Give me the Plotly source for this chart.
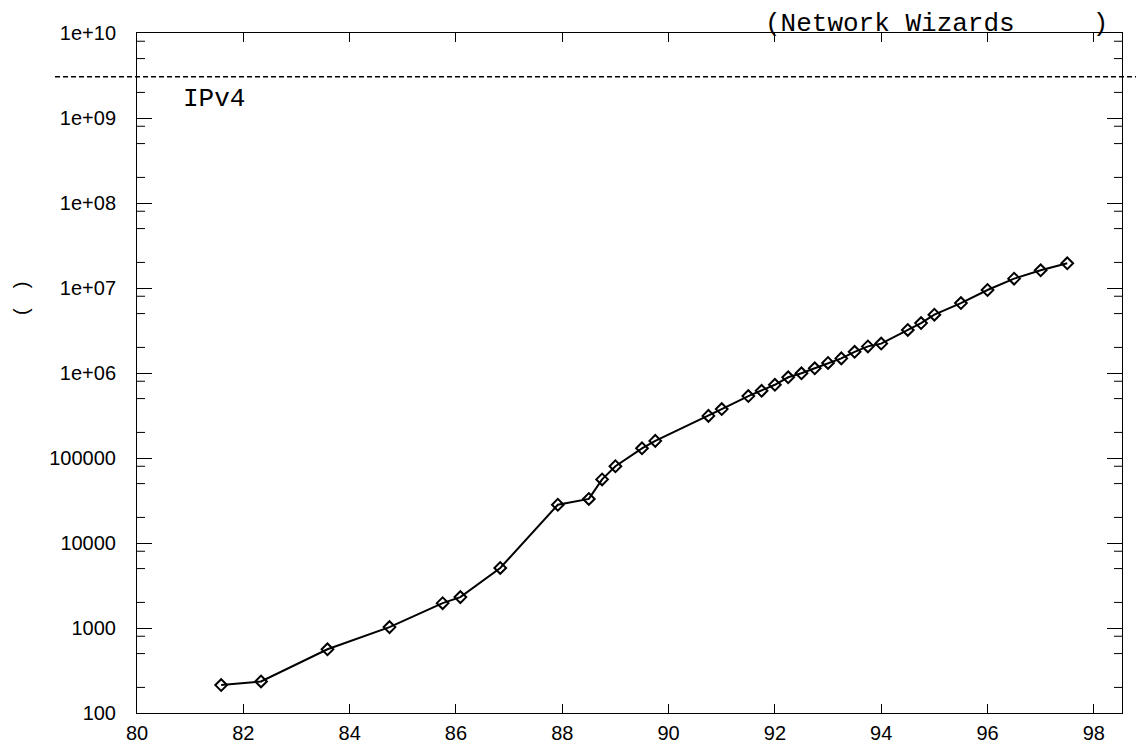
import math
import plotly.graph_objects as go

# Internet Domain Survey host counts (Network Wizards)
survey_year = [81, 82, 83, 84, 85, 86, 86, 87, 88, 88, 89, 89, 89, 90, 91, 91, 91,
               92, 92, 92, 92, 93, 93, 93, 93, 94, 94, 94, 95, 95, 96, 96, 97, 97]
survey_month = [8, 5, 8, 10, 10, 2, 11, 12, 7, 10, 1, 7, 10, 10, 1, 7, 10,
                1, 4, 7, 10, 1, 4, 7, 10, 1, 7, 10, 1, 7, 1, 7, 1, 7]
hosts = [213, 235, 562, 1024, 1961, 2308, 5089, 28174, 33000, 56000, 80000, 130000,
         159000, 313000, 376000, 535000, 617000, 727000, 890000, 992000, 1136000,
         1313000, 1486000, 1776000, 2056000, 2217000, 3212000, 3864000, 4852000,
         6642000, 9472000, 12881000, 16146000, 19540000]

ipv4_limit = 3.06e9

x_tickvals = [80, 82, 84, 86, 88, 90, 92, 94, 96, 98]
y_tickvals = [1e2, 1e3, 1e4, 1e5, 1e6, 1e7, 1e8, 1e9, 1e10]
y_ticktext = ["100", "1000", "10000", "100000", "1e+06", "1e+07", "1e+08", "1e+09", "1e+10"]
y_minor = [m * 10 ** e for e in range(2, 10) for m in (2, 5, 8)]

x_vals = [y + (m - 1) / 12 for y, m in zip(survey_year, survey_month)]

Y_MIN, Y_MAX = 2, 10
PLOT_W, PLOT_H = 985, 680
TOP_MARGIN = 25

fig = go.Figure()
fig.add_trace(go.Scatter(
    x=x_vals, y=hosts, mode="lines+markers",
    line=dict(color="black", width=2),
    marker=dict(symbol="diamond-open", size=9, color="black", line=dict(width=2)),
    showlegend=False,
))

tickfont = dict(family="Liberation Sans, Arial, sans-serif", size=20, color="black")
mono = "Liberation Mono, Courier New, monospace"

fig.update_layout(
    width=1128, height=736,
    margin=dict(l=129, r=14, t=TOP_MARGIN, b=31, pad=0, autoexpand=False),
    paper_bgcolor="white", plot_bgcolor="white",
    xaxis=dict(
        range=[80, 98.53], tickmode="array", tickvals=x_tickvals, automargin=False,
        ticks="inside", ticklen=9, tickwidth=1, tickcolor="black",
        showline=True, linecolor="black", linewidth=1, mirror="ticks",
        showgrid=False, zeroline=False, tickfont=tickfont, ticklabelstandoff=2,
    ),
    yaxis=dict(
        type="log", range=[Y_MIN, Y_MAX], tickmode="array", automargin=False,
        tickvals=y_tickvals, ticktext=y_ticktext,
        ticks="inside", ticklen=15, tickwidth=1, tickcolor="black",
        showline=True, linecolor="black", linewidth=1, mirror="ticks",
        showgrid=False, zeroline=False, tickfont=tickfont, ticklabelstandoff=16,
    ),
)

# minor log ticks (2, 5, 8 per decade) on both y sides
minor_len = 8 / PLOT_W
for v in y_minor:
    for x0, x1 in ((0, minor_len), (1 - minor_len, 1)):
        fig.add_shape(type="line", xref="paper", yref="y", x0=x0, x1=x1, y0=v, y1=v,
                      line=dict(color="black", width=1))

# IPv4 limit dashed line (extends beyond the plot area)
y_paper = (math.log10(ipv4_limit) - Y_MIN) / (Y_MAX - Y_MIN)
fig.add_shape(type="line", xref="paper", yref="paper",
              x0=-0.0832, x1=1.03, y0=y_paper, y1=y_paper,
              line=dict(color="black", width=1.5, dash="5px,3px"))

fig.add_annotation(text="IPv4", xref="x", yref="y", x=80.83, y=9.224,
                   xanchor="left", yanchor="middle", showarrow=False,
                   font=dict(family=mono, size=26, color="black"))

fig.add_annotation(text="(Network Wizards\u00a0\u00a0\u00a0\u00a0\u00a0)",
                   xref="paper", yref="paper", x=0.987, y=1 + (TOP_MARGIN - 0.5) / PLOT_H,
                   xanchor="right", yanchor="top", showarrow=False, borderpad=0,
                   font=dict(family=mono, size=26, color="black"))

fig.add_annotation(text="(\u2003)", xref="paper", yref="paper", x=-0.118, y=0.61,
                   xanchor="center", yanchor="middle", showarrow=False, textangle=-90,
                   font=dict(family="Liberation Sans, Arial, sans-serif", size=20, color="black"))

fig.write_html("out.html")
